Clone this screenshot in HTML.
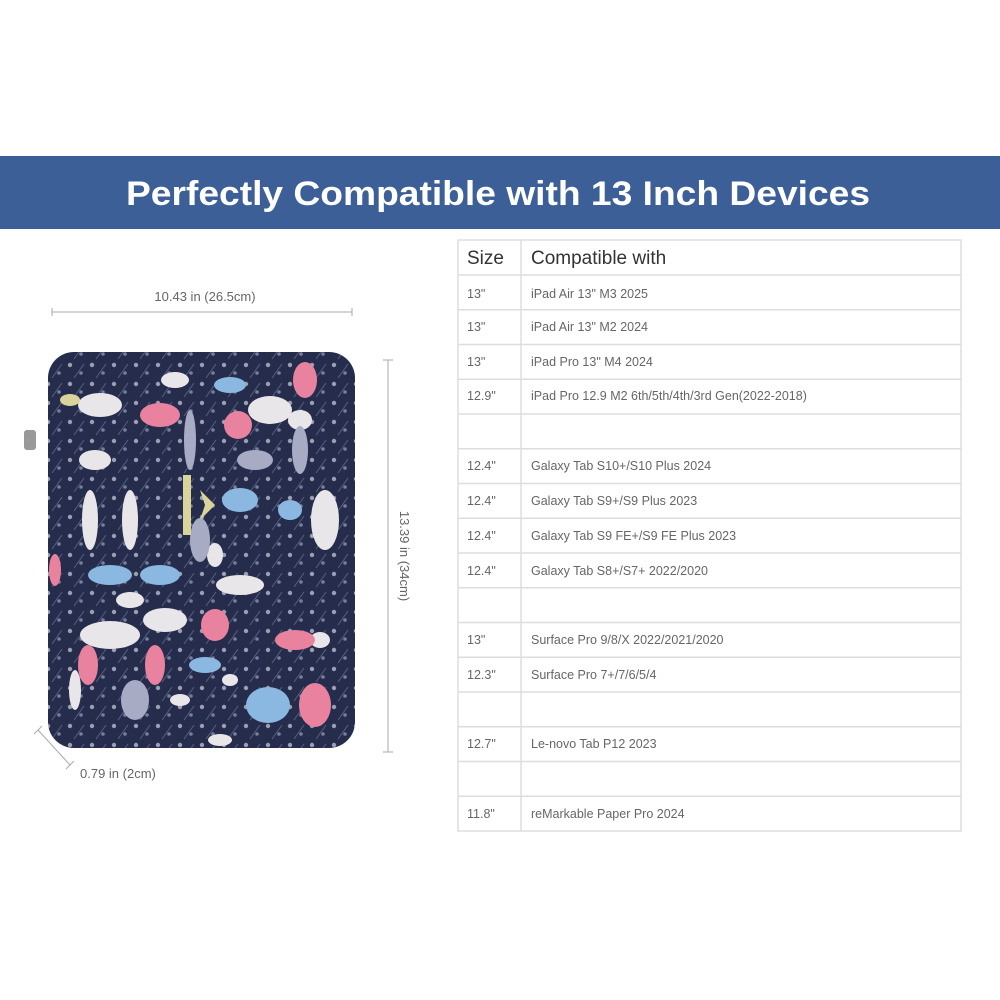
<!DOCTYPE html>
<html><head><meta charset="utf-8"><style>
body{margin:0;background:#fff}
svg{display:block}
text{font-family:"Liberation Sans",sans-serif}
</style></head><body>
<svg width="1000" height="1000" viewBox="0 0 1000 1000" xmlns="http://www.w3.org/2000/svg">
<rect width="1000" height="1000" fill="#fff"/>
<rect x="0" y="156" width="1000" height="73" fill="#3c5f98"/>
<text x="498" y="205" font-size="34" font-weight="bold" fill="#fff" text-anchor="middle" textLength="744" lengthAdjust="spacingAndGlyphs">Perfectly Compatible with 13 Inch Devices</text>

<text x="205" y="301" font-size="13" fill="#666" text-anchor="middle">10.43 in (26.5cm)</text>
<line x1="52" y1="312" x2="352" y2="312" stroke="#aaa" stroke-width="1"/>
<line x1="52" y1="308" x2="52" y2="316" stroke="#aaa"/><line x1="352" y1="308" x2="352" y2="316" stroke="#aaa"/>
<line x1="388" y1="360" x2="388" y2="752" stroke="#aaa"/>
<line x1="383" y1="360" x2="393" y2="360" stroke="#aaa"/><line x1="383" y1="752" x2="393" y2="752" stroke="#aaa"/>
<text transform="translate(400,556) rotate(90)" font-size="13" fill="#666" text-anchor="middle">13.39 in (34cm)</text>
<line x1="38" y1="730" x2="70" y2="765" stroke="#aaa"/>
<line x1="34" y1="734" x2="42" y2="726" stroke="#aaa"/><line x1="66" y1="769" x2="74" y2="761" stroke="#aaa"/>
<text x="80" y="778" font-size="13" fill="#666">0.79 in (2cm)</text>

<defs>
<clipPath id="c"><rect x="48" y="352" width="307" height="396" rx="26"/></clipPath>
<pattern id="p" width="22" height="19" patternUnits="userSpaceOnUse">
<circle cx="4" cy="4" r="2.2" fill="#cfd0dc"/><circle cx="15" cy="12" r="1.8" fill="#9aa2c0"/><line x1="8" y1="17" x2="18" y2="3" stroke="#6d7596" stroke-width="1"/>
</pattern>
</defs>
<rect x="48" y="352" width="307" height="396" rx="26" fill="#262c4c"/>
<g clip-path="url(#c)">
<rect x="48" y="352" width="307" height="396" fill="url(#p)" opacity="0.7"/>
<g fill="#e9e6ea">
<ellipse cx="100" cy="405" rx="22" ry="12"/><ellipse cx="95" cy="460" rx="16" ry="10"/><ellipse cx="90" cy="520" rx="8" ry="30"/><ellipse cx="130" cy="520" rx="8" ry="30"/>
<ellipse cx="110" cy="635" rx="30" ry="14"/><ellipse cx="165" cy="620" rx="22" ry="12"/><ellipse cx="270" cy="410" rx="22" ry="14"/>
<ellipse cx="240" cy="585" rx="24" ry="10"/><ellipse cx="325" cy="520" rx="14" ry="30"/><ellipse cx="175" cy="380" rx="14" ry="8"/>
<ellipse cx="230" cy="680" rx="8" ry="6"/><ellipse cx="75" cy="690" rx="6" ry="20"/><ellipse cx="180" cy="700" rx="10" ry="6"/>
<ellipse cx="320" cy="640" rx="10" ry="8"/><ellipse cx="220" cy="740" rx="12" ry="6"/>
<ellipse cx="300" cy="420" rx="12" ry="10"/><ellipse cx="215" cy="555" rx="8" ry="12"/><ellipse cx="130" cy="600" rx="14" ry="8"/>
</g>
<g fill="#e8829e">
<ellipse cx="160" cy="415" rx="20" ry="12"/><ellipse cx="238" cy="425" rx="14" ry="14"/><ellipse cx="305" cy="380" rx="12" ry="18"/>
<ellipse cx="215" cy="625" rx="14" ry="16"/><ellipse cx="295" cy="640" rx="20" ry="10"/><ellipse cx="88" cy="665" rx="10" ry="20"/>
<ellipse cx="155" cy="665" rx="10" ry="20"/><ellipse cx="315" cy="705" rx="16" ry="22"/><ellipse cx="55" cy="570" rx="6" ry="16"/>
</g>
<g fill="#8ab8e0">
<ellipse cx="268" cy="705" rx="22" ry="18"/><ellipse cx="110" cy="575" rx="22" ry="10"/><ellipse cx="160" cy="575" rx="20" ry="10"/>
<ellipse cx="240" cy="500" rx="18" ry="12"/><ellipse cx="290" cy="510" rx="12" ry="10"/><ellipse cx="230" cy="385" rx="16" ry="8"/>
<ellipse cx="205" cy="665" rx="16" ry="8"/>
</g>
<g fill="#a7acc4">
<ellipse cx="255" cy="460" rx="18" ry="10"/><ellipse cx="200" cy="540" rx="10" ry="22"/><ellipse cx="135" cy="700" rx="14" ry="20"/>
<ellipse cx="300" cy="450" rx="8" ry="24"/><ellipse cx="190" cy="440" rx="6" ry="30"/>
</g>
<g fill="#d8d49a"><rect x="183" y="475" width="8" height="60"/><polygon points="200,490 215,505 200,520 205,505"/><ellipse cx="70" cy="400" rx="10" ry="6"/></g>
</g>
<rect x="24" y="430" width="12" height="20" rx="3" fill="#999"/>

<g stroke="#ddd" stroke-width="1.5" fill="none">
<rect x="458" y="240" width="503" height="591"/>
<line x1="521" y1="240" x2="521" y2="831"/>
<line x1="458" y1="275" x2="961" y2="275"/>
<line x1="458" y1="309.75" x2="961" y2="309.75"/>
<line x1="458" y1="344.5" x2="961" y2="344.5"/>
<line x1="458" y1="379.25" x2="961" y2="379.25"/>
<line x1="458" y1="414" x2="961" y2="414"/>
<line x1="458" y1="448.75" x2="961" y2="448.75"/>
<line x1="458" y1="483.5" x2="961" y2="483.5"/>
<line x1="458" y1="518.25" x2="961" y2="518.25"/>
<line x1="458" y1="553" x2="961" y2="553"/>
<line x1="458" y1="587.75" x2="961" y2="587.75"/>
<line x1="458" y1="622.5" x2="961" y2="622.5"/>
<line x1="458" y1="657.25" x2="961" y2="657.25"/>
<line x1="458" y1="692" x2="961" y2="692"/>
<line x1="458" y1="726.75" x2="961" y2="726.75"/>
<line x1="458" y1="761.5" x2="961" y2="761.5"/>
<line x1="458" y1="796.25" x2="961" y2="796.25"/>
</g>
<text x="467" y="264" font-size="19" fill="#333">Size</text>
<text x="531" y="264" font-size="19" fill="#333">Compatible with</text>
<g font-size="12.5" fill="#666">
<text x="467" y="298">13"</text><text x="531" y="298">iPad Air 13" M3 2025</text>
<text x="467" y="331">13"</text><text x="531" y="331">iPad Air 13" M2 2024</text>
<text x="467" y="366">13"</text><text x="531" y="366">iPad Pro 13" M4 2024</text>
<text x="467" y="400">12.9"</text><text x="531" y="400">iPad Pro 12.9 M2 6th/5th/4th/3rd Gen(2022-2018)</text>
<text x="467" y="470">12.4"</text><text x="531" y="470">Galaxy Tab S10+/S10 Plus 2024</text>
<text x="467" y="505">12.4"</text><text x="531" y="505">Galaxy Tab S9+/S9 Plus 2023</text>
<text x="467" y="540">12.4"</text><text x="531" y="540">Galaxy Tab S9 FE+/S9 FE Plus 2023</text>
<text x="467" y="575">12.4"</text><text x="531" y="575">Galaxy Tab S8+/S7+ 2022/2020</text>
<text x="467" y="644">13"</text><text x="531" y="644">Surface Pro 9/8/X 2022/2021/2020</text>
<text x="467" y="679">12.3"</text><text x="531" y="679">Surface Pro 7+/7/6/5/4</text>
<text x="467" y="748">12.7"</text><text x="531" y="748">Le-novo Tab P12 2023</text>
<text x="467" y="818">11.8"</text><text x="531" y="818">reMarkable Paper Pro 2024</text>
</g>
</svg>
</body></html>
